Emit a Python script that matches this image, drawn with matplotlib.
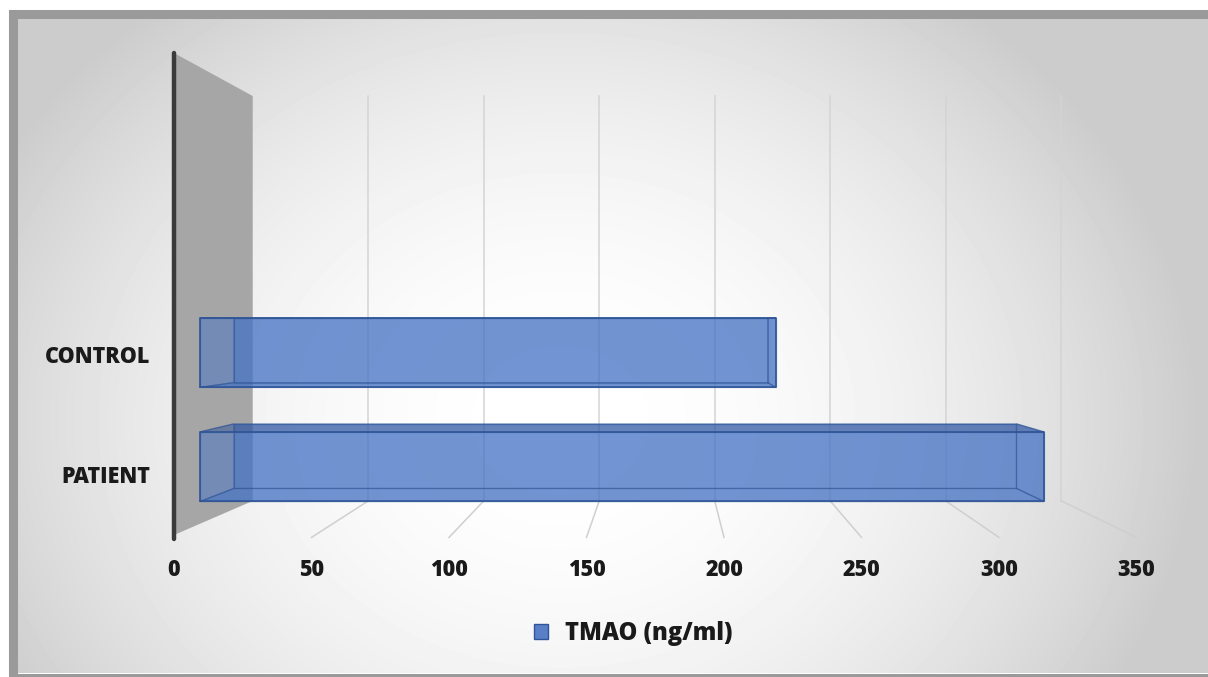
import numpy as np
import matplotlib
matplotlib.use('Agg')
import matplotlib.pyplot as plt
from matplotlib.patches import Patch, Rectangle

plt.rcParams['font.family'] = ['Open Sans', 'DejaVu Sans']

categories = ['PATIENT', 'CONTROL']
tmao = [324, 221]
xticks = [0, 50, 100, 150, 200, 250, 300, 350]
series_name = 'TMAO (ng/ml)'

W, H = 1208, 677
# front plane layout in pixels
FX0, FSC = 174, 2.75        # x pixel of value 0, pixels per unit
FY0, UNIT = 535, 120.5      # floor pixel row, pixels per category unit
WALL_H = 4.0                # wall height in category units
K = 0.16                    # shrink of the back plane
VP = ((666 - FX0) / FSC, (FY0 - 322) / UNIT)   # vanishing point
BAR_D = (0.33, 0.76)        # bar front / back depth
BAR_HALF = 0.305

BLUE = '#4472C4'
BLUE_EDGE = '#2F5597'
TXT = '#1a1a1a'
WEIGHT = 'heavy'


def proj(v, h, d):
    s = 1 - K * d
    return VP[0] + (v - VP[0]) * s, VP[1] + (h - VP[1]) * s


def poly(pts):
    xy = [proj(*p) for p in pts]
    return [p[0] for p in xy], [p[1] for p in xy]


fig = plt.figure(figsize=(W / 100, H / 100), dpi=100)
fig.patch.set_facecolor('white')

# radial background
bg = fig.add_axes([17 / W, (H - 673) / H, (W - 17) / W, (673 - 17) / H])
yy, xx = np.mgrid[0:656, 0:1191]
r = np.sqrt(((xx - 543) / 620.0) ** 2 + ((yy - 403) / 520.0) ** 2)
val = 1 - 0.19 * np.clip(r, 0, 1.03) ** 2
bg.imshow(val, cmap='gray', vmin=0, vmax=1, aspect='auto', interpolation='bilinear')
bg.axis('off')

# outer frame
fig.patches.append(Rectangle((12.5 / W, 1 - 677.5 / H), (1214 - 12.5) / W, (677.5 - 13.5) / H,
                             transform=fig.transFigure, fill=False,
                             edgecolor='#9a9a9a', linewidth=6.5, zorder=5))

ax = fig.add_axes([0, 0, 1, 1])
ax.set_xlim(-FX0 / FSC, (W - FX0) / FSC)
ax.set_ylim((FY0 - H) / UNIT, FY0 / UNIT)
ax.axis('off')
ax.patch.set_alpha(0)

# left wall
xs, ys = poly([(0, 0, 0), (0, WALL_H, 0), (0, WALL_H, 1), (0, 0, 1)])
ax.fill(xs, ys, color='#a6a6a6', lw=0, zorder=1)

# gridlines on back wall and floor
for t in xticks[1:]:
    xs, ys = poly([(t, 0, 1), (t, WALL_H, 1)])
    ax.plot(xs, ys, color='#d4d4d4', lw=1.1, zorder=2)
    xs, ys = poly([(t, -0.02, 0), (t, 0, 1)])
    ax.plot(xs, ys, color='#cfcfcf', lw=1.1, zorder=2)

# front axis line
xs, ys = poly([(0, -0.03, 0), (0, WALL_H, 0)])
ax.plot(xs, ys, color='#3a3a3a', lw=3.2, solid_capstyle='round', zorder=6)

# transparent 3d bars
d0, d1 = BAR_D
for i, (cat, v) in enumerate(zip(categories, tmao)):
    y = i + 0.5
    h0, h1 = y - BAR_HALF, y + BAR_HALF
    faces = [
        ([(0, h0, d1), (v, h0, d1), (v, h1, d1), (0, h1, d1)], BLUE, True),        # back
        ([(0, h0, d0), (v, h0, d0), (v, h0, d1), (0, h0, d1)], BLUE, True),        # bottom
        ([(0, h0, d0), (0, h1, d0), (0, h1, d1), (0, h0, d1)], BLUE, False),       # left end
        ([(v, h0, d0), (v, h1, d0), (v, h1, d1), (v, h0, d1)], BLUE, True),        # right end
        ([(0, h1, d0), (v, h1, d0), (v, h1, d1), (0, h1, d1)], '#2c4f96', True),   # top
        ([(0, h0, d0), (v, h0, d0), (v, h1, d0), (0, h1, d0)], BLUE, True),        # front
    ]
    for pts, c, filled in faces:
        xs, ys = poly(pts)
        if filled:
            ax.fill(xs, ys, facecolor=c, alpha=0.5, edgecolor='none', zorder=3)
        ax.fill(xs, ys, fill=False, edgecolor=BLUE_EDGE, lw=0.9, alpha=0.5, zorder=4)
    xs, ys = poly([(0, h0, d0), (v, h0, d0), (v, h1, d0), (0, h1, d0), (0, h0, d0)])
    ax.plot(xs, ys, color=BLUE_EDGE, lw=1.3, alpha=0.85, zorder=4)

    # category label
    ax.text(-8.7, y - 0.02, cat, ha='right', va='center', fontsize=15.5,
            fontweight=WEIGHT, color=TXT, zorder=7)

# value labels along the front floor edge
for t in xticks:
    ax.text(t, (FY0 - 570) / UNIT, str(t), ha='center', va='center', fontsize=15.5,
            fontweight=WEIGHT, color=TXT, zorder=7)

fig.legend(handles=[Patch(facecolor='#5a7fc9', edgecolor='#2F5597', lw=1)],
           labels=[series_name], loc='center', bbox_to_anchor=(633 / W, 1 - 633 / H),
           frameon=False, prop={'size': 17, 'weight': WEIGHT},
           handlelength=0.62, handleheight=0.62, handletextpad=0.7, labelcolor=TXT)

fig.savefig('out.png', dpi=100)
